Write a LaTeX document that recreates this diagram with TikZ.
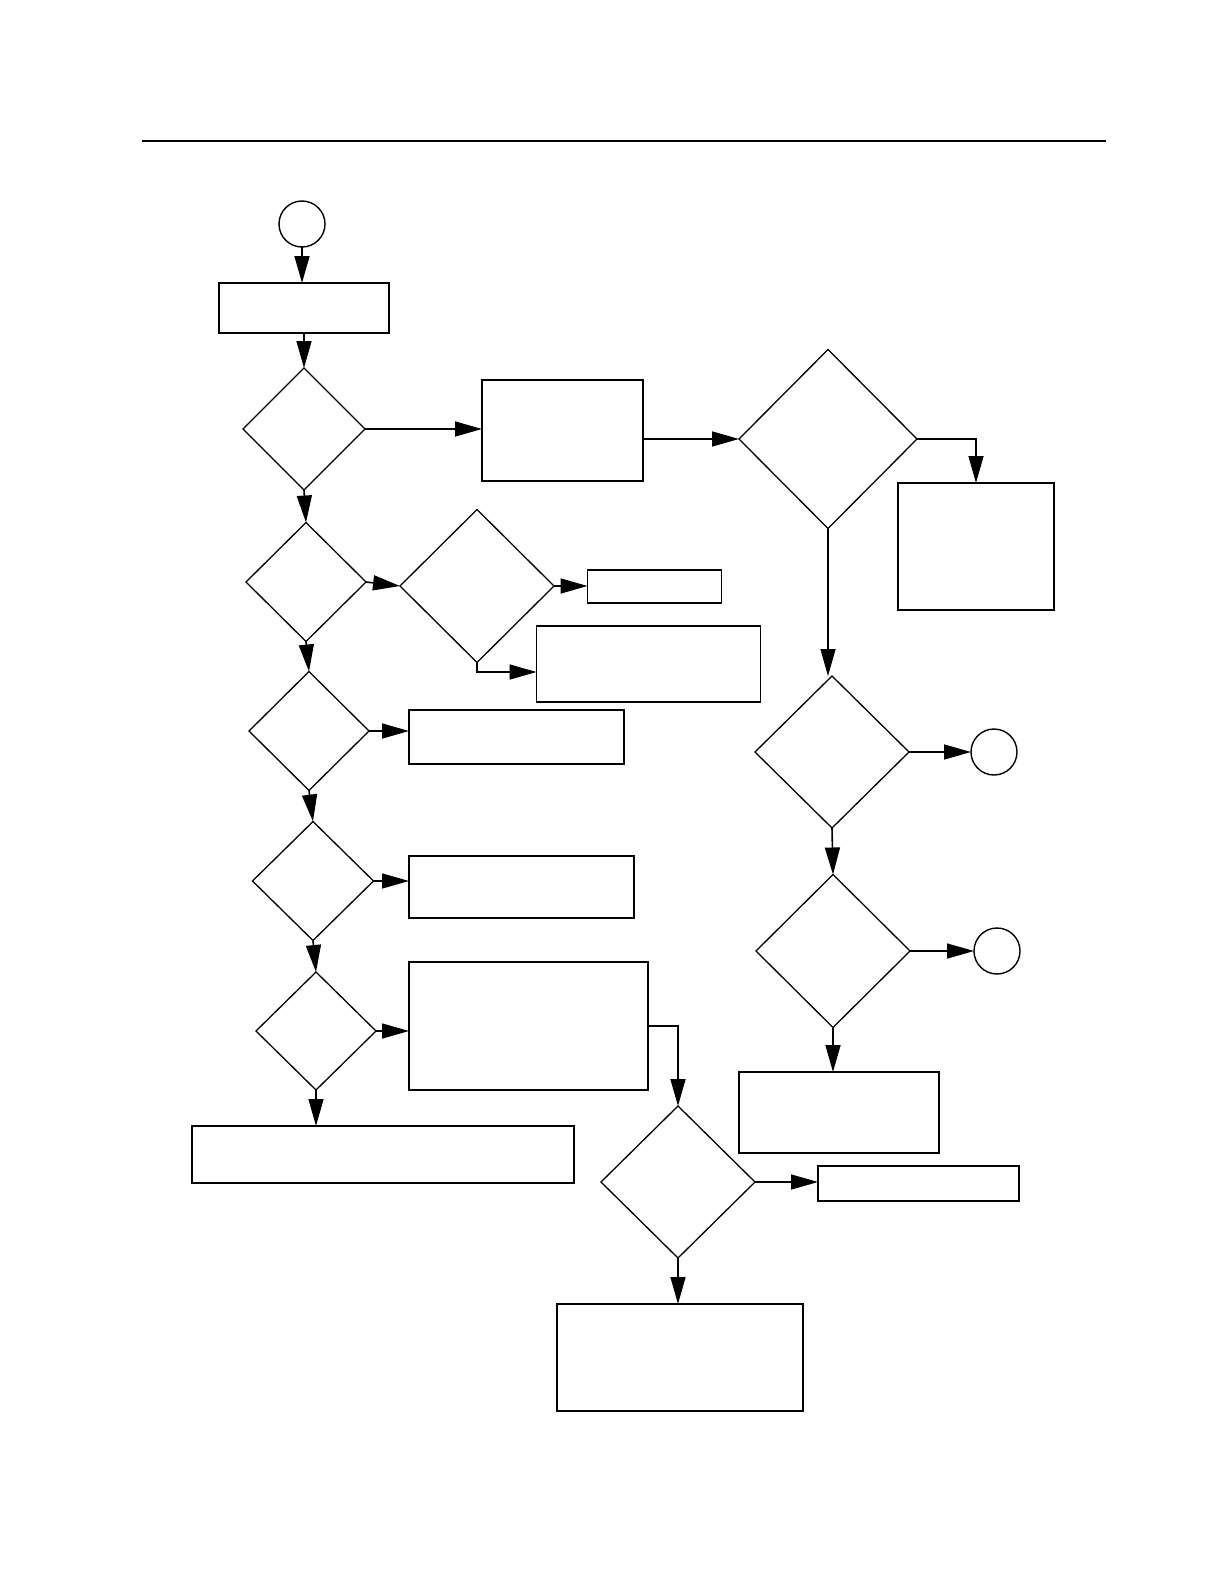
\documentclass[tikz,border=0pt]{standalone}
\usetikzlibrary{shapes.geometric,arrows.meta}
\begin{document}
\begin{tikzpicture}[x=1pt,y=-1pt,
  boxnode/.style={draw,rectangle,line width=1.8pt,inner sep=0pt,outer sep=0pt},
  decnode/.style={draw,diamond,line width=1.3pt,inner sep=0pt,outer sep=0pt},
  termnode/.style={draw,circle,line width=1.4pt,inner sep=0pt,outer sep=0pt,minimum size=46pt},
  flow/.style={line width=1.6pt,-{Triangle[length=27pt,width=15pt]}},
  rule/.style={line width=1.4pt}]
\useasboundingbox (0,0) rectangle (1224,1584);
\draw[rule] (142,141) -- (1106,141);
% left column
\node[termnode] (c1) at (302,224) {};
\node[boxnode,minimum width=170pt,minimum height=50pt] (b1) at (304,308) {};
\node[decnode,minimum width=122pt,minimum height=122pt] (d1) at (304,429) {};
\node[boxnode,minimum width=161pt,minimum height=101pt] (b2) at (562.5,430.5) {};
\node[decnode,minimum width=178pt,minimum height=179pt] (d10) at (828,439) {};
\node[boxnode,minimum width=156pt,minimum height=127pt] (b3r) at (976,546.5) {};
\node[decnode,minimum width=120pt,minimum height=119pt] (d2) at (306,582) {};
\node[decnode,minimum width=154pt,minimum height=153pt] (d3) at (477,586) {};
\node[boxnode,minimum width=134pt,minimum height=33pt] (b3) at (654.5,586.5) {};
\node[boxnode,minimum width=224pt,minimum height=76pt] (b4) at (648.5,664) {};
\node[decnode,minimum width=120pt,minimum height=119pt] (d4) at (309,731) {};
\node[boxnode,minimum width=215pt,minimum height=54pt] (b5) at (516.5,737) {};
\node[decnode,minimum width=121pt,minimum height=119pt] (d5) at (313,881) {};
\node[boxnode,minimum width=225pt,minimum height=62pt] (b6) at (521.5,887) {};
\node[decnode,minimum width=120pt,minimum height=118pt] (d6) at (316,1031) {};
\node[boxnode,minimum width=239pt,minimum height=128pt] (b7) at (528.5,1026) {};
\node[boxnode,minimum width=382pt,minimum height=57pt] (b8) at (383,1154.5) {};
\node[decnode,minimum width=154pt,minimum height=152pt] (d7) at (678,1182) {};
\node[boxnode,minimum width=201pt,minimum height=35pt] (b9) at (918.5,1183.5) {};
\node[boxnode,minimum width=246pt,minimum height=107pt] (b10) at (680,1357.5) {};
% right column
\node[decnode,minimum width=154pt,minimum height=152pt] (d8) at (832,752) {};
\node[termnode] (c2) at (994,752) {};
\node[decnode,minimum width=154pt,minimum height=153pt] (d9) at (833,951) {};
\node[termnode] (c3) at (997,951) {};
\node[boxnode,minimum width=200pt,minimum height=81pt] (b11) at (839,1112.5) {};
% connectors
\draw[flow] (c1.south) -- (c1.south |- b1.north);
\draw[flow] (b1.south) -- (d1.north);
\draw[flow] (d1.east) -- (d1.east -| b2.west);
\draw[flow] (b2.east |- d10.west) -- (d10.west);
\draw[flow] (d10.east) -| (b3r.north);
\draw[flow] (d10.south) -- (d10.south |- d8.north);
\draw[flow] (d8.east) -- (c2.west);
\draw[flow] (d8.south) -- (d9.north);
\draw[flow] (d9.east) -- (c3.west);
\draw[flow] (d9.south) -- (d9.south |- b11.north);
\draw[flow] (d1.south) -- (d2.north);
\draw[flow] (d2.east) -- (d3.west);
\draw[flow] (d3.east) -- (d3.east -| b3.west);
\draw[flow] (d3.south) |- ([yshift=-8pt]b4.west);
\draw[flow] (d2.south) -- (d4.north);
\draw[flow] (d4.east) -- (d4.east -| b5.west);
\draw[flow] (d4.south) -- (d5.north);
\draw[flow] (d5.east) -- (d5.east -| b6.west);
\draw[flow] (d5.south) -- (d6.north);
\draw[flow] (d6.east) -- (d6.east -| b7.west);
\draw[flow] (d6.south) -- (d6.south |- b8.north);
\draw[flow] (b7.east) -| (d7.north);
\draw[flow] (d7.east) -- (d7.east -| b9.west);
\draw[flow] (d7.south) -- (d7.south |- b10.north);
\end{tikzpicture}
\end{document}
